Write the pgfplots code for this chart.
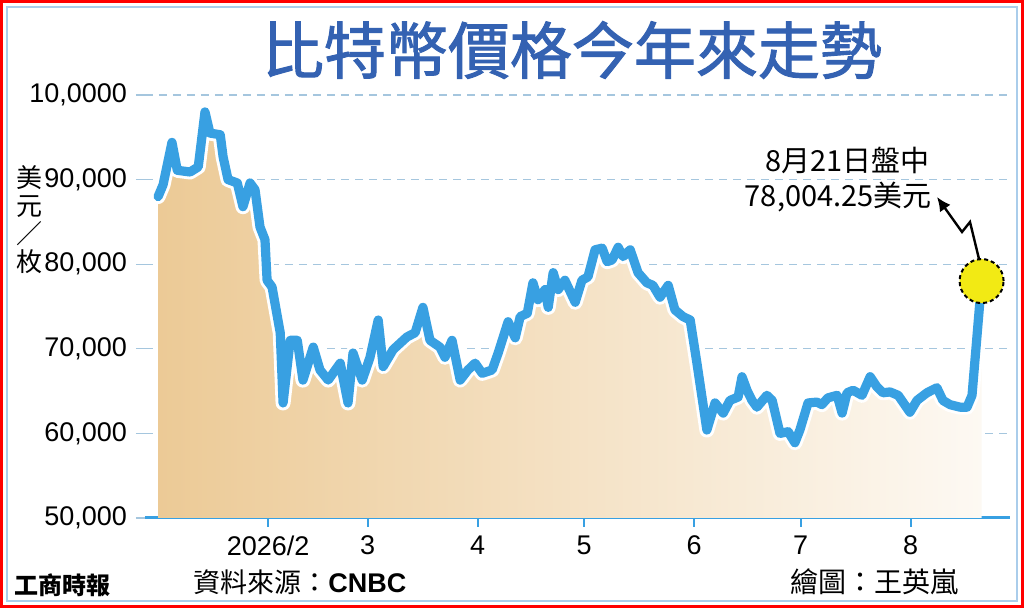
\documentclass[border=0pt]{standalone}
\usepackage{pgfplots}
\usepackage{pgfplotstable}
\pgfplotsset{compat=1.18}
\usetikzlibrary{arrows.meta}
\usepackage{fontspec}
\setmainfont{Liberation Sans}
\newfontfamily\cjk{Noto Sans CJK TC}
\newfontfamily\cjkt[FakeBold=1.6]{Noto Sans CJK TC}
\definecolor{linec}{RGB}{56,160,226}
\definecolor{titlec}{RGB}{52,98,178}
\definecolor{gridc}{RGB}{165,198,222}
\definecolor{tanL}{RGB}{236,202,150}
\definecolor{tanR}{RGB}{253,249,243}
\definecolor{frameb}{RGB}{170,205,235}
\definecolor{yel}{RGB}{242,234,20}

\pgfplotstableread{
d v
0 88000
1.4 89400
3.9 94400
5.4 91100
9.0 90900
11.3 91500
13.2 98000
14.6 95500
17.5 95300
18.3 92700
19.7 90000
22.3 89600
23.9 86800
25.9 89600
27.3 88800
28.7 84400
30.1 82900
30.7 78100
32.1 77300
34.4 71900
35.2 63600
37.2 71000
39.2 71000
40.8 66300
43.7 70200
45.6 67500
47.9 66300
51.3 68300
53.5 63600
54.9 69500
57.5 66300
59.7 69000
62.0 73400
63.4 67900
66.2 69900
70.1 71400
72.4 71900
74.6 74900
76.6 71000
79.4 70200
80.8 69000
82.8 71000
85.1 66300
87.3 67500
89.3 68300
91.3 67100
94.1 67500
95.8 69500
98.6 73200
100.6 71300
102.0 73800
104.0 74200
105.6 77800
107.0 75800
109.0 77000
109.9 74900
111.3 79000
112.7 77000
114.6 78100
117.5 75500
119.4 78100
121.1 78500
123.1 81700
125.1 81900
126.5 80300
127.9 80500
129.6 82000
131.0 80900
133.0 81700
135.2 79000
137.7 77800
139.4 77500
141.4 76100
143.7 77500
145.6 74600
147.9 73800
149.9 73400
151.8 68300
154.6 60400
156.9 63600
159.2 62400
161.1 63900
163.4 64300
164.5 66700
165.9 65100
167.3 63900
168.7 63100
171.5 64500
173.0 63900
175.2 60000
177.5 60200
179.4 58900
180.8 60400
183.1 63600
185.6 63700
187.0 63400
188.7 64200
191.3 64500
192.7 62400
194.1 64800
195.8 65100
198.3 64500
200.6 66700
202.5 65500
204.2 64800
206.2 64900
208.5 64500
211.8 62500
213.8 63900
216.6 64800
219.4 65400
221.1 63900
223.1 63400
225.9 63100
227.9 63100
229.3 64500
232 78004.25
}\btc

\begin{document}
\begin{tikzpicture}[x=0.5pt,y=-0.5pt]
\useasboundingbox (0,0) rectangle (1024,608);
\fill[white] (0,0) rectangle (1024,608);
\draw[frameb, line width=1pt] (7,7) rectangle (1017,601);
\draw[red, line width=1.5pt] (1.5,1.5) rectangle (1022.5,606.5);

\begin{axis}[
  at={(72.5pt,-259pt)}, anchor=south west,
  scale only axis, width=432.5pt, height=211.5pt,
  xmin=-3.7, xmax=240, ymin=50000, ymax=100000,
  axis x line*=bottom, axis y line*=left,
  y axis line style={draw=none},
  x axis line style={linec, line width=1.5pt, -},
  xtick={31,59,90,120,151,181,212},
  xticklabels={2026/2,3,4,5,6,7,8},
  ytick={50000,60000,70000,80000,90000,100000},
  yticklabels={{50,000},{60,000},{70,000},{80,000},{90,000},{10,0000}},
  tick align=outside,
  xtick style={linec, line width=1pt},
  ytick style={gridc, line width=0.6pt},
  major tick length=4.5pt,
  ymajorgrids,
  grid style={gridc, dash pattern=on 4pt off 3pt, line width=0.6pt},
  ticklabel style={font=\fontsize{13.5}{14}\selectfont, text=black},
  xticklabel style={yshift=-1pt},
  yticklabel style={xshift=-1pt},
  scaled y ticks=false,
  /pgf/number format/assume math mode=true,
]
\addplot[draw=none, left color=tanL, right color=tanR] table[x=d,y=v] {\btc} \closedcycle;
\addplot[only marks, mark=*, mark size=11pt,
  mark options={fill=yel, draw=black, dash pattern=on 2pt off 1.5pt, line width=1pt}]
  coordinates {(232,78004.25)};
\addplot[white, line width=7.5pt, line join=round, line cap=round] table[x=d,y=v] {\btc};
\addplot[linec, line width=4.6pt, line join=round, line cap=round] table[x=d,y=v] {\btc};
\end{axis}

\draw[black, line width=1.2pt, -{Latex[length=7pt,width=6.5pt]}]
  (979,259) -- (970,222) -- (962,232) -- (937,197);

\node[anchor=east, inner sep=0pt, font=\cjk\fontsize{14.5}{15}\selectfont] at (930,160) {8月21日盤中};
\node[anchor=east, inner sep=0pt, font=\cjk\fontsize{14.5}{15}\selectfont] at (932,197) {78,004.25美元};

\node[font=\cjkt\fontsize{31}{31}\selectfont, text=titlec] at (572,50) {比特幣價格今年來走勢};

\node[font=\cjk\fontsize{13}{14}\selectfont, align=center, inner sep=0pt] at (30,220) {美\\元\\／\\枚};

\node[anchor=west, inner sep=0pt, font=\cjk\fontsize{13.5}{14}\selectfont] at (193,582) {資料來源：{\rmfamily\bfseries CNBC}};
\node[anchor=west, inner sep=0pt, font=\cjk\fontsize{14}{14}\selectfont] at (790,582) {繪圖：王英嵐};
\node[inner sep=0pt, font=\cjk\bfseries\fontsize{12}{12}\selectfont] at (62,585) {工商時報};
\end{tikzpicture}
\end{document}
